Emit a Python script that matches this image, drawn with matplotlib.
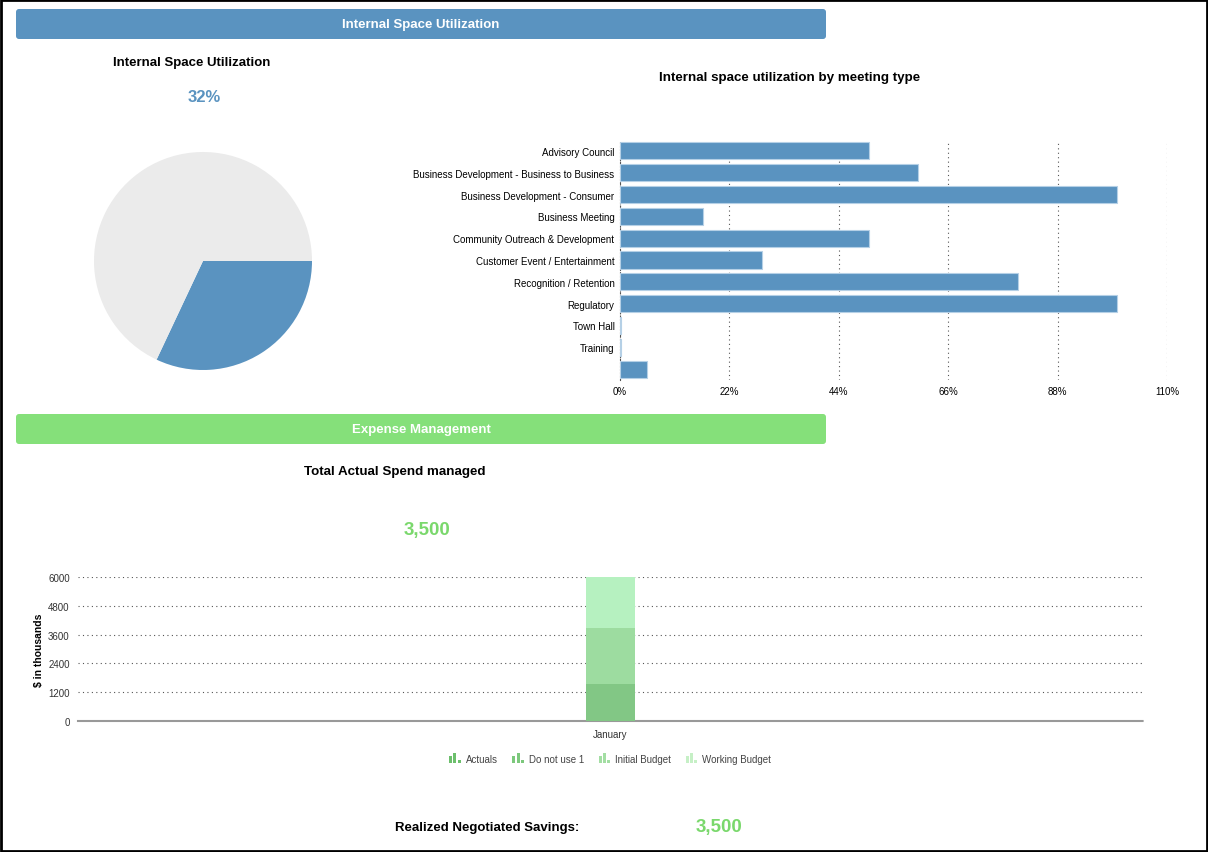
import numpy as np
import matplotlib
matplotlib.use("Agg")
import matplotlib.pyplot as plt
from matplotlib.patches import Rectangle, FancyBboxPatch, Patch
from matplotlib.legend_handler import HandlerBase

plt.rcParams['font.family'] = ['Liberation Sans', 'DejaVu Sans']

# data
utilization_pct = 32
meeting_types = ['Advisory Council', 'Business Development - Business to Business',
                 'Business Development - Consumer', 'Business Meeting',
                 'Community Outreach & Development', 'Customer Event / Entertainment',
                 'Recognition / Retention', 'Regulatory', 'Town Hall', 'Training', '']
meeting_util = [50, 60, 100, 16.7, 50, 28.6, 80, 100, 0.3, 0.3, 5.4]
util_ticks = [0, 22, 44, 66, 88, 110]

months = ['January']
spend_series = ['Actuals', 'Do not use 1', 'Initial Budget', 'Working Budget']
spend_values = {
    'Actuals': [1560],
    'Do not use 1': [0],
    'Initial Budget': [2330],
    'Working Budget': [2110],
}
spend_ticks = [0, 1200, 2400, 3600, 4800, 6000]
total_spend = 3500
savings = 3500

BLUE = '#5a93c0'
GREEN = '#85e07a'
GREEN_TXT = '#7ad86c'
bar_colors = {'Actuals': '#82c785', 'Do not use 1': '#8fd18f',
              'Initial Budget': '#9ddca0', 'Working Budget': '#b6f1c0'}
icon_colors = {'Actuals': '#6cbf6c', 'Do not use 1': '#7cc87c',
               'Initial Budget': '#a3dea3', 'Working Budget': '#c6f0c6'}

W, H = 1208, 853
fig = plt.figure(figsize=(W / 100, H / 100), dpi=100)


def px_axes(x0, y0, x1, y1):
    return fig.add_axes([x0 / W, 1 - y1 / H, (x1 - x0) / W, (y1 - y0) / H])


# overlay for headers and text, pixel coords
bg = fig.add_axes([0, 0, 1, 1])
bg.set_xlim(0, W)
bg.set_ylim(H, 0)
bg.axis('off')
bg.add_patch(Rectangle((1, 1), W - 2, H - 2, fill=False, edgecolor='black', lw=2))
for y, col, label in [(10, BLUE, 'Internal Space Utilization'), (415, GREEN, 'Expense Management')]:
    bg.add_patch(FancyBboxPatch((16, y), 810, 30, boxstyle='round,pad=0,rounding_size=3',
                                facecolor=col, edgecolor='none'))
    bg.text(421, y + 15, label, color='white', fontsize=9.5, fontweight='bold',
            ha='center', va='center')

bg.text(192, 63, 'Internal Space Utilization', fontsize=9.5, fontweight='bold', ha='center', va='center')
bg.text(204, 97, '%d%%' % utilization_pct, fontsize=12, fontweight='bold', color=BLUE,
        ha='center', va='center')
bg.text(790, 78, 'Internal space utilization by meeting type', fontsize=9.6, fontweight='bold',
        ha='center', va='center')
bg.text(395, 472, 'Total Actual Spend managed', fontsize=9.6, fontweight='bold', ha='center', va='center')
bg.text(427, 531, '{:,}'.format(total_spend), fontsize=13.5, fontweight='bold', color=GREEN_TXT,
        ha='center', va='center')
bg.text(487, 828, 'Realized Negotiated Savings:', fontsize=9.5, fontweight='bold', ha='center', va='center')
bg.text(719, 828, '{:,}'.format(savings), fontsize=13.5, fontweight='bold', color=GREEN_TXT,
        ha='center', va='center')

# pie
ax_pie = px_axes(94, 153, 312, 371)
ax_pie.pie([utilization_pct, 100 - utilization_pct], colors=[BLUE, '#ebebeb'],
           startangle=0, counterclock=False, wedgeprops=dict(linewidth=0))
ax_pie.set_xlim(-1, 1)
ax_pie.set_ylim(-1, 1)
ax_pie.axis('off')

# horizontal bars
ax_b = px_axes(620, 141, 1167, 381)
ypos = np.arange(len(meeting_types))
ax_b.barh(ypos, meeting_util, height=0.78, color=BLUE, edgecolor='#b5d0e6', linewidth=0.8, zorder=3)
ax_b.set_ylim(len(meeting_types) - 0.5, -0.5)
ax_b.set_xlim(0, 110)
ax_b.set_yticks(ypos)
ax_b.set_yticklabels(meeting_types, fontsize=7)
ax_b.set_xticks(util_ticks)
ax_b.set_xticklabels(['%d%%' % t for t in util_ticks], fontsize=7)
ax_b.tick_params(length=0, pad=4)
ax_b.xaxis.grid(True, linestyle=(0, (1, 3)), color='#555555', linewidth=0.8)
for s in ['top', 'right', 'bottom']:
    ax_b.spines[s].set_visible(False)
ax_b.spines['left'].set_linestyle((0, (1, 2)))
ax_b.spines['left'].set_color('#555555')
ax_b.spines['left'].set_linewidth(0.8)
ax_b.set_axisbelow(True)

# stacked column
ax_s = px_axes(78, 578, 1143, 722)
xpos = np.arange(len(months))
bottom = np.zeros(len(months))
for name in spend_series:
    vals = np.array(spend_values[name], dtype=float)
    ax_s.bar(xpos, vals, width=0.046, bottom=bottom, color=bar_colors[name], linewidth=0, zorder=3)
    bottom += vals
ax_s.set_xlim(-0.5, 0.5)
ax_s.set_ylim(0, 6000)
ax_s.set_yticks(spend_ticks)
ax_s.set_yticklabels([str(t) for t in spend_ticks], fontsize=7, color='#333333')
ax_s.set_xticks(xpos)
ax_s.set_xticklabels(months, fontsize=7, color='#333333')
ax_s.tick_params(length=0, pad=6)
ax_s.yaxis.grid(True, linestyle=(0, (1, 3)), color='#555555', linewidth=0.8)
for s in ['top', 'right', 'left']:
    ax_s.spines[s].set_visible(False)
ax_s.spines['bottom'].set_color('#999999')
ax_s.spines['bottom'].set_linestyle((0, (1, 1)))
ax_s.spines['bottom'].set_linewidth(1.5)
ax_s.set_ylabel('$ in thousands', fontsize=7.5, fontweight='bold', labelpad=3)
ax_s.set_axisbelow(True)


class BarIconHandler(HandlerBase):
    # little three-bar glyph like the web legend
    def create_artists(self, legend, orig_handle, xdescent, ydescent, width, height, fontsize, trans):
        col = orig_handle.get_facecolor()
        bw = width / 3.9
        arts = []
        for i, h in enumerate([1.1, 1.55, 0.55]):
            r = Rectangle((-xdescent + i * bw * 1.45, -ydescent - 1), bw, h * height,
                          facecolor=col, edgecolor='none', transform=trans)
            arts.append(r)
        return arts


handles = [Patch(facecolor=icon_colors[n]) for n in spend_series]
fig.legend(handles, spend_series, loc='center', bbox_to_anchor=(610 / W, 1 - 760 / H),
           ncol=4, frameon=False, fontsize=7, handlelength=1.2, handletextpad=0.5,
           columnspacing=1.5, handler_map={Patch: BarIconHandler()},
           labelcolor='#444444')

fig.savefig('out.png', dpi=100, facecolor='white')
